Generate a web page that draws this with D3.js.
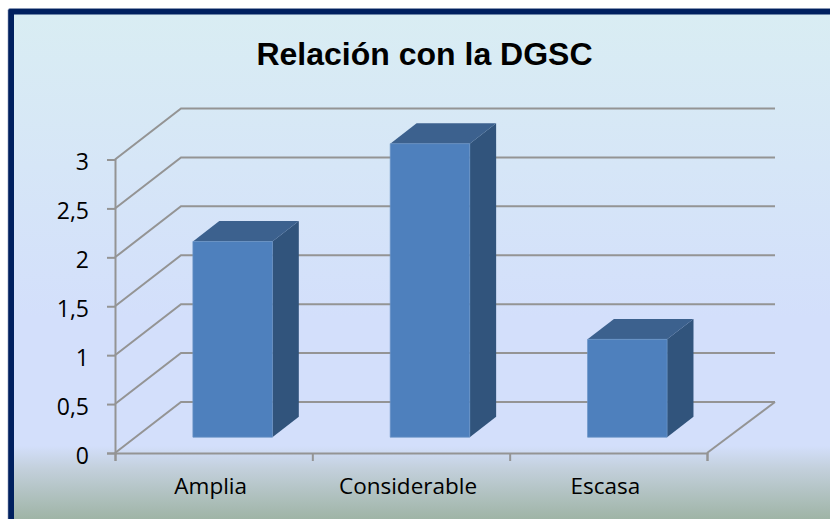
<!DOCTYPE html>
<html><head><meta charset="utf-8">
<script src="https://cdn.jsdelivr.net/npm/d3@7"></script>
<style>html,body{margin:0;padding:0;background:#fff;overflow:hidden}svg{display:block}</style>
</head><body><svg id="c" width="830" height="519"></svg>
<script>
const titleText = "Relación con la DGSC";
const categories = ["Amplia","Considerable","Escasa"];
const values = [2,3,1];
const yTicks = [0,0.5,1,1.5,2,2.5,3];

const svg = d3.select("#c");
const defs = svg.append("defs");
const g = defs.append("linearGradient").attr("id","bg").attr("x1",0).attr("y1",0).attr("x2",0).attr("y2",1);
[[0,"#d9edf3"],[0.3,"#d6e6f7"],[0.6,"#d3dffb"],[0.855,"#d3dffb"],[0.9,"#c3d0dc"],[1,"#9fb4a6"]]
  .forEach(([o,c])=>g.append("stop").attr("offset",o).attr("stop-color",c));

svg.append("rect").attr("x",8).attr("y",8.5).attr("width",830).attr("height",520).attr("rx",2).attr("fill","#00205f").attr("stroke","#8e9cb8").attr("stroke-width",0.6);
svg.append("rect").attr("x",14).attr("y",14.5).attr("width",816).attr("height",504.5).attr("fill","url(#bg)");

svg.append("text").attr("x",424.5).attr("y",65).attr("text-anchor","middle")
  .attr("font-family","'Liberation Sans',Arial,sans-serif").attr("font-weight","bold").attr("font-size",32).attr("fill","#000").text(titleText);

const x = d3.scaleBand().domain(categories).range([115,707]);
const y = d3.scaleLinear().domain([0,3]).range([453,159.5]);
const depth = d3.scaleLinear().domain([0,1]).range([0,66]);
const rise = d3.scaleLinear().domain([0,1]).range([0,-51]);
const px = (c,f,d)=>x(c)+x.bandwidth()*f+depth(d);
const py = (v,d)=>y(v)+rise(d);
const gridCol = "#949494";
const xL = x.range()[0], xR = x.range()[1], backR = xR + 68;

// walls and floor
const wall = svg.append("g").attr("fill","none").attr("stroke",gridCol).attr("stroke-width",2);
const line = d3.line();
wall.selectAll("path.g").data(yTicks).join("path").attr("class","g")
  .attr("d",v=>line([[xL,y(v)],[xL+depth(1),py(v,1)],[backR,py(v,1)]]));
wall.append("path").attr("d",line([[xR,y(0)],[backR,py(0,1)]]));

// axes
const axY = d3.axisLeft(y).tickValues(yTicks).tickSize(8).tickPadding(18).tickFormat(d=>String(d).replace(".",","));
const gy = svg.append("g").attr("transform",`translate(${xL},0)`).call(axY);
const tickEdges = x.domain().map(c=>x(c)).concat(xR);
const axXScale = d3.scaleLinear().domain([xL,xR]).range([xL,xR]);
const gxt = svg.append("g").attr("transform",`translate(0,${y(0)})`)
  .call(d3.axisBottom(axXScale).tickValues(tickEdges).tickSize(8).tickFormat(""));
const axX = d3.axisBottom(x).tickSize(0).tickPadding(25);
const gx = svg.append("g").attr("transform",`translate(-3,${y(0)})`).call(axX);
gx.select(".domain").remove();
[gy,gxt].forEach(s=>{s.selectAll("path.domain").attr("stroke",gridCol).attr("stroke-width",2);
  s.selectAll(".tick line").attr("stroke",gridCol).attr("stroke-width",2);});
[gy,gx].forEach(s=>s.selectAll("text").attr("font-family","'Open Sans',sans-serif").attr("fill","#000"));
gy.selectAll("text").attr("style","font-size:23px").attr("dy","0.44em");
gx.selectAll("text").attr("style","font-size:22.5px");

// bars
const f0=0.291,f1=0.694,d0=0.31,d1=0.71;
const bars = svg.append("g").selectAll("g").data(categories.map((c,i)=>({c,v:values[i]}))).join("g");
const poly = a=>a.map(p=>p.join(",")).join(" ");
bars.append("polygon").attr("fill","#31547c")
  .attr("points",d=>poly([[px(d.c,f1,d0),py(0,d0)],[px(d.c,f1,d1),py(0,d1)],[px(d.c,f1,d1),py(d.v,d1)],[px(d.c,f1,d0),py(d.v,d0)]]));
bars.append("polygon").attr("fill","#3c618e")
  .attr("points",d=>poly([[px(d.c,f0,d0),py(d.v,d0)],[px(d.c,f1,d0),py(d.v,d0)],[px(d.c,f1,d1),py(d.v,d1)],[px(d.c,f0,d1),py(d.v,d1)]]));
bars.append("polygon").attr("fill","#4e80bd").attr("stroke","#6a93c6").attr("stroke-width",0.7)
  .attr("points",d=>poly([[px(d.c,f0,d0),py(0,d0)],[px(d.c,f1,d0),py(0,d0)],[px(d.c,f1,d0),py(d.v,d0)],[px(d.c,f0,d0),py(d.v,d0)]]));
</script></body></html>
